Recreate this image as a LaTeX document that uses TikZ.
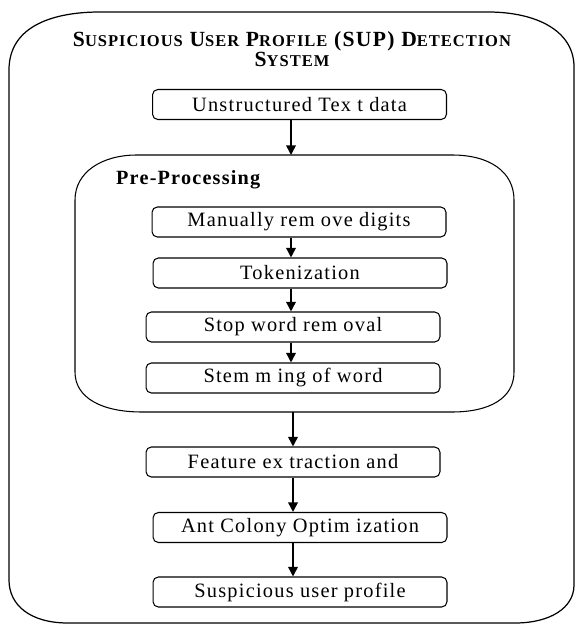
\documentclass[tikz,border=0pt]{standalone}
\usepackage{fontspec}
\setmainfont{Liberation Serif}[LetterSpace=6]
\usetikzlibrary{arrows.meta}

\newcommand{\fakesc}[2]{#1{\fontsize{9.4}{10}\selectfont #2}}

\begin{document}
\begin{tikzpicture}[x=0.02cm,y=-0.02cm,
	box/.style={draw, rounded corners=3pt, minimum width=5.88cm, minimum height=0.6cm, inner sep=0pt, line width=0.6pt, font=\fontsize{11.6}{14}\selectfont},
	arr/.style={-{Triangle[width=5.5pt,length=5.5pt]}, line width=0.9pt}]

	\useasboundingbox (0,0) rectangle (575,624);

	% outer frame
	\draw[line width=0.7pt] (9,70) .. controls (9,25) and (55,12) .. (100,12) -- (488,12) .. controls (535,12) and (574,30) .. (574,67) -- (574,585) .. controls (574,608) and (550,623) .. (515,623) -- (68,623) .. controls (30,623) and (9,605) .. (9,580) -- cycle;
	\node[font=\bfseries\fontsize{12.3}{10}\selectfont, align=center] (title) at (292,49) {\fakesc{S}{USPICIOUS} \fakesc{U}{SER} \fakesc{P}{ROFILE} (SUP) \fakesc{D}{ETECTION}\\\fakesc{S}{YSTEM}};

	\node[box] (unst) at (299.5,104.5) {Unstructured Tex t data};

	% pre-processing frame
	\draw[line width=0.6pt] (75,200) .. controls (75,172) and (102,155) .. (137,155) -- (452,155) .. controls (490,155) and (514,172) .. (514,200) -- (514,372) .. controls (514,398) and (490,412) .. (452,412) -- (142,412) .. controls (102,412) and (75,398) .. (75,372) -- cycle;
	\coordinate (pretop) at (291,155);
	\coordinate (prebot) at (293,412);
	\node[font=\bfseries\fontsize{11.5}{13}\selectfont, anchor=west] (pretitle) at (110,180) {Pre-Processing};

	\node[box] (manual) at (299,222) {Manually rem ove digits};
	\node[box] (token) at (300,273) {Tokenization};
	\node[box] (stop) at (293,327) {Stop word rem oval};
	\node[box] (stem) at (293,378) {Stem m ing of word};

	\node[box] (feat) at (293,462) {Feature ex traction and};
	\node[box] (aco) at (300,527.5) {Ant Colony Optim ization};
	\node[box] (susp) at (300,592) {Suspicious user profile};

	% arrows
	\coordinate (spine) at (291,0);
	\draw[arr] (unst.south -| pretop) -- (pretop);
	\draw[arr] (manual.south -| spine) -- (token.north -| spine);
	\draw[arr] (token.south -| spine) -- (stop.north -| spine);
	\draw[arr] (stop.south -| spine) -- (stem.north -| spine);
	\draw[arr] (prebot) -- (feat.north -| prebot);
	\draw[arr] (feat.south -| prebot) -- (aco.north -| prebot);
	\draw[arr] (aco.south -| prebot) -- (susp.north -| prebot);
\end{tikzpicture}
\end{document}
